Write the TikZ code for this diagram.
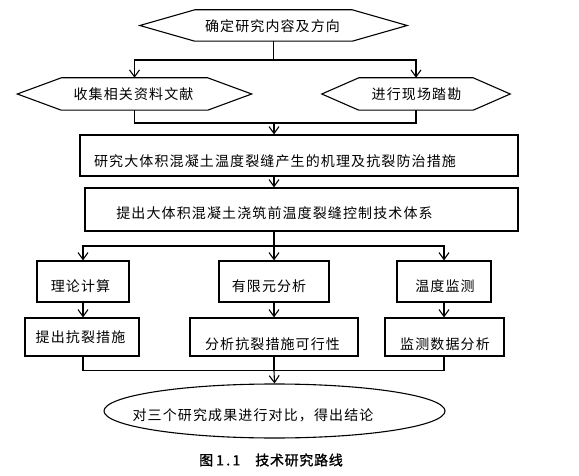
\documentclass[tikz,border=0pt]{standalone}
\usepackage{fontspec}
\newfontfamily\cjk[LetterSpace=8]{Noto Sans CJK SC}
\newfontfamily\cjkcap[LetterSpace=5, FakeBold=1.2]{Noto Sans CJK SC}
\usetikzlibrary{arrows.meta,calc,shapes.geometric}
\tikzset{
  box/.style={draw, line width=1.1pt, inner sep=0pt},
  hexcore/.style={inner sep=0pt},
  hexline/.style={line width=1.1pt, line join=miter},
  txt/.style={font=\cjk\fontsize{14}{14}\selectfont, inner sep=0pt},
  conn/.style={line width=1.1pt},
  arr/.style={line width=1.1pt, -{Straight Barb[length=7pt,width=10pt]}},
}
\newcommand\myhex[6]{%
  \node[hexcore, minimum width=#4, minimum height=#5] (#1) at (#2,#3) {};
  \draw[hexline] (#1.north west) -- (#1.north east) -- ($(#1.east)+(#6,0)$) -- (#1.south east) -- (#1.south west) -- ($(#1.west)+(-#6,0)$) -- cycle;}
\begin{document}
\begin{tikzpicture}[x=1pt,y=-1pt]
\useasboundingbox (0,0) rectangle (579,476);
% hexagons
\myhex{top}{273.5}{25.5}{157pt}{31pt}{55}
\node[txt] (ttop) at (272.5,26.5) {确定研究内容及方向};
\myhex{hexL}{134.5}{94}{146pt}{32pt}{44}
\node[txt] (thexL) at (133.5,94) {收集相关资料文献};
\myhex{hexR}{416}{94}{114pt}{32pt}{37}
\node[txt] (thexR) at (416.5,94) {进行现场踏勘};
% boxes
\node[box, minimum width=438pt, minimum height=41pt] (b1) at (299,155.5) {};
\node[txt] (tb1) at (275,161) {研究大体积混凝土温度裂缝产生的机理及抗裂防治措施};
\node[box, minimum width=433pt, minimum height=43pt] (b2) at (301.5,209.5) {};
\node[txt] (tb2) at (274.5,213) {提出大体积混凝土浇筑前温度裂缝控制技术体系};
\node[box, minimum width=92pt, minimum height=41pt] (A) at (83,281.5) {};
\node[txt] (tA) at (80.5,286) {理论计算};
\node[box, minimum width=110pt, minimum height=41pt] (B) at (274,281.5) {};
\node[txt] (tB) at (269,286) {有限元分析};
\node[box, minimum width=94pt, minimum height=41pt] (C) at (444,281.5) {};
\node[txt] (tC) at (445,286) {温度监测};
\node[box, minimum width=114pt, minimum height=38pt] (D) at (82,337) {};
\node[txt] (tD) at (80.5,337) {提出抗裂措施};
\node[box, minimum width=168pt, minimum height=38pt] (E) at (274,337) {};
\node[txt] (tE) at (272.5,344) {分析抗裂措施可行性};
\node[box, minimum width=119pt, minimum height=38pt] (F) at (444.5,337) {};
\node[txt] (tF) at (445,344) {监测数据分析};
\node[ellipse, draw, line width=1.1pt, inner sep=0pt, minimum width=341pt, minimum height=54pt] (ell) at (274.5,411) {};
\node[txt] (tell) at (253,415) {对三个研究成果进行对比，得出结论};
\node[font=\cjkcap\fontsize{14}{14}\selectfont, inner sep=0pt] (cap) at (271,460) {图\hspace{3pt}1\,.\,1\hspace{15pt}技术研究路线};
% connectors
\coordinate (j1) at (273.5,60);
\draw[conn] (top.south) -- (j1);
\draw[arr] (j1) -| (hexL.north);
\draw[arr] (j1) -| (hexR.north);
\coordinate (j2) at (274,123);
\draw[conn] (hexL.south) -- (hexL.south |- j2) -| (hexR.south);
\draw[arr] (j2) -- (j2 |- b1.north);
\draw[arr] (b1.south -| j2) -- (b2.north -| j2);
\coordinate (j3) at (274,246);
\draw[conn] (b2.south -| j3) -- (j3);
\draw[arr] (j3) -| (A.north);
\draw[arr] (j3) -| (C.north);
\draw[arr] (j3) -- (B.north);
\draw[arr] (A.south) -- (A.south |- D.north);
\draw[arr] (B.south) -- (E.north);
\draw[arr] (C.south) -- (C.south |- F.north);
\coordinate (j4) at (274,370.5);
\draw[conn] (A.south |- D.south) -- (A.south |- j4) -- (C.south |- j4) -- (C.south |- F.south);
\draw[conn] (E.south) -- (j4);
\draw[arr] (j4) -- (ell.north);
\end{tikzpicture}
\end{document}
